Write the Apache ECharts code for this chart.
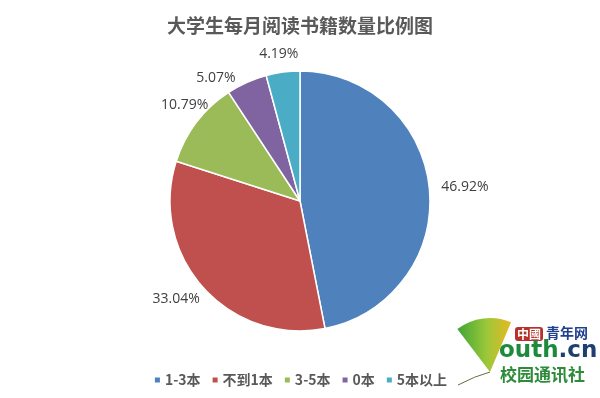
<!DOCTYPE html>
<html><head><meta charset="utf-8">
<script src="https://cdn.jsdelivr.net/npm/echarts@6/dist/echarts.min.js"></script>
<style>html,body{margin:0;padding:0;background:#fff}#c{width:600px;height:398px}</style>
</head><body><div id="c"></div>
<script>
const categories = ['1-3本', '不到1本', '3-5本', '0本', '5本以上'];
const values = [46.92, 33.04, 10.79, 5.07, 4.19];
const colors = ['#4F81BD', '#C0504D', '#9BBB59', '#8064A2', '#4BACC6'];
const chart = echarts.init(document.getElementById('c'));
// place each label just outside the arc, centred along its slice's mid-angle (Excel style)
function excelLabel(p) {
  const pts = p.labelLinePoints;
  if (!pts) return {};
  const dx0 = pts[1][0] - pts[0][0], dy0 = pts[1][1] - pts[0][1];
  const n = Math.hypot(dx0, dy0) || 1;
  const dx = dx0 / n, dy = dy0 / n;
  const g = 12;
  const w = p.labelRect.width, h = p.labelRect.height * 0.85;
  return {
    x: pts[0][0] + dx * (g + w / 2), y: pts[0][1] + dy * (g + h / 2),
    align: 'center', verticalAlign: 'middle'
  };
}
chart.setOption({
  animation: false,
  backgroundColor: '#fff',
  color: colors,
  title: {
    text: '大学生每月阅读书籍数量比例图',
    left: 'center', top: 11,
    textStyle: { fontSize: 19, fontWeight: 'bold', color: '#595959', fontFamily: 'Noto Sans CJK SC' }
  },
  legend: {
    bottom: 6, left: 'center',
    itemWidth: 7, itemHeight: 7, itemGap: 10, icon: 'rect',
    textStyle: { fontSize: 14, fontWeight: 'bold', color: '#595959', fontFamily: 'Noto Sans CJK SC', padding: [0,0,0,-1] },
    data: categories
  },
  series: [{
    type: 'pie',
    center: [300, 201],
    radius: 130,
    startAngle: 90,
    clockwise: true,
    itemStyle: { borderColor: '#fff', borderWidth: 1.5 },
    label: {
      show: true, position: 'outside',
      formatter: p => p.value.toFixed(2) + '%',
      fontSize: 14, color: '#404040', fontFamily: 'Open Sans'
    },
    labelLine: { show: true, length: 8, length2: 0, lineStyle: { opacity: 0, width: 0 } },
    labelLayout: excelLabel,
    data: categories.map((c, i) => ({ name: c, value: values[i] }))
  }],
  graphic: [
    { type: 'sector', shape: { cx: 490, cy: 372, r0: 0, r: 54, startAngle: -2.22, endAngle: -1.17 },
      style: { fill: new echarts.graphic.LinearGradient(0, 0, 1, 0, [{ offset: 0, color: '#3FA535' }, { offset: 0.55, color: '#9CC83A' }, { offset: 1, color: '#E8B820' }]) } },
    { type: 'bezierCurve', shape: { x1: 490, y1: 372, x2: 458, y2: 385, cpx1: 475, cpy1: 376 }, style: { stroke: '#6B6B40', lineWidth: 1 } },
    { type: 'text', left: 515, top: 327, style: { text: '中國', fill: '#fff', backgroundColor: '#B8322C', font: 'bold 12px "Noto Sans CJK SC"', padding: [1,2], borderRadius: 3 } },
    { type: 'text', left: 546, top: 326, style: { text: '青年网', fill: '#1F3F8F', font: 'bold 14px "Noto Sans CJK SC"' } },
    { type: 'text', left: 499, top: 340, style: { text: '{a|outh}{b|.cn}', rich: { a: { fill: '#1E8A3C', font: 'bold 23px "DejaVu Sans"' }, b: { fill: '#1F3F6F', font: 'bold 23px "DejaVu Sans"' } } } },
    { type: 'text', left: 500, top: 366, style: { text: '校园通讯社', fill: '#2E8B3A', font: 'bold 17px "Noto Sans CJK SC"' } }
  ]
});
</script></body></html>
